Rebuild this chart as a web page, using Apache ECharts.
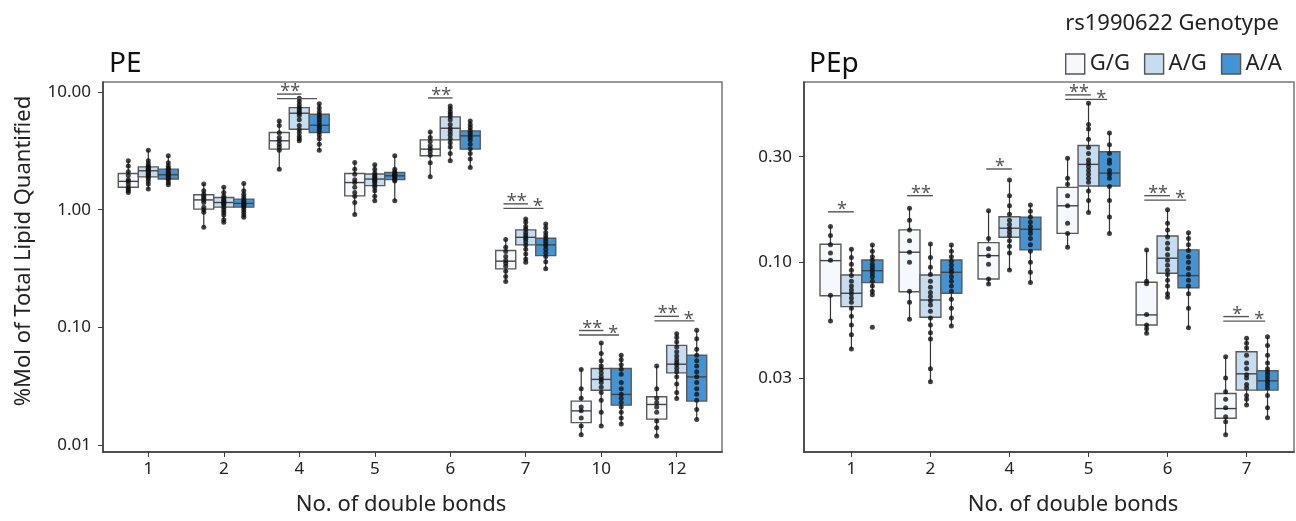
<!DOCTYPE html>
<html>
<head>
<meta charset="utf-8">
<script src="https://cdn.jsdelivr.net/npm/echarts@6/dist/echarts.min.js"></script>
<style>
  html, body { margin: 0; padding: 0; background: #fff; }
  #main { width: 1296px; height: 521px; }
</style>
</head>
<body>
<div id="main"></div>
<script>
// box stats: [low whisker, Q1, median, Q3, high whisker]
const peCats = ['1', '2', '4', '5', '6', '7', '10', '12'];
const peGG = [
  [1.40, 1.55, 1.74, 2.03, 2.60], [0.71, 1.01, 1.21, 1.34, 1.65], [2.21, 3.27, 3.85, 4.52, 5.68],
  [0.91, 1.31, 1.70, 2.03, 2.52], [1.90, 2.87, 3.27, 3.92, 4.58], [0.245, 0.314, 0.365, 0.450, 0.557],
  [0.0122, 0.0155, 0.0195, 0.0236, 0.0438], [0.0119, 0.0166, 0.0221, 0.0257, 0.0470]
];
const peAG = [
  [1.50, 1.90, 2.14, 2.31, 3.20], [0.77, 1.05, 1.15, 1.27, 1.55], [3.85, 4.83, 6.60, 7.36, 8.85],
  [1.19, 1.60, 1.82, 2.01, 2.41], [2.60, 3.92, 4.92, 6.14, 7.61], [0.357, 0.502, 0.582, 0.673, 0.834],
  [0.0145, 0.0292, 0.0361, 0.0447, 0.0736], [0.0249, 0.0410, 0.0486, 0.0703, 0.0883]
];
const peAA = [
  [1.63, 1.82, 1.98, 2.21, 2.87], [0.86, 1.05, 1.13, 1.23, 1.67], [3.20, 4.52, 5.22, 6.47, 7.96],
  [1.19, 1.80, 1.94, 2.07, 2.87], [2.28, 3.27, 4.24, 4.67, 5.68], [0.314, 0.407, 0.502, 0.571, 0.757],
  [0.0151, 0.0218, 0.0269, 0.0447, 0.0579], [0.0165, 0.0236, 0.0379, 0.0579, 0.0944]
];
const peGGPts = [
  [2.60, 2.35, 2.1, 1.95, 1.8, 1.74, 1.65, 1.55, 1.5, 1.45, 1.40],
  [1.65, 1.45, 1.35, 1.3, 1.25, 1.2, 1.15, 1.05, 1.0, 0.95, 0.71],
  [5.68, 5.2, 4.5, 4.1, 3.85, 3.6, 3.4, 3.2, 2.21],
  [2.52, 2.2, 2.0, 1.8, 1.7, 1.55, 1.4, 1.3, 1.15, 0.91],
  [4.58, 4.1, 3.8, 3.5, 3.3, 3.1, 2.9, 2.5, 1.9],
  [0.557, 0.48, 0.44, 0.40, 0.37, 0.35, 0.33, 0.30, 0.27, 0.245],
  [0.0438, 0.030, 0.025, 0.021, 0.0195, 0.017, 0.0145, 0.0122],
  [0.0470, 0.030, 0.025, 0.023, 0.021, 0.019, 0.016, 0.014, 0.0119]
];
const peAGPts = [
  [3.2, 2.6, 2.45, 2.35, 2.3, 2.25, 2.2, 2.15, 2.1, 2.05, 2.0, 1.95, 1.9, 1.85, 1.75, 1.65, 1.5],
  [1.55, 1.4, 1.3, 1.25, 1.2, 1.18, 1.15, 1.12, 1.1, 1.05, 1.0, 0.95, 0.9, 0.82, 0.78],
  [8.85, 8.3, 7.8, 7.4, 7.1, 6.8, 6.6, 6.3, 5.8, 5.2, 4.8, 4.5, 4.2, 4.0, 3.85],
  [2.41, 2.2, 2.05, 1.95, 1.9, 1.85, 1.8, 1.75, 1.7, 1.62, 1.55, 1.45, 1.3, 1.19],
  [7.61, 7.2, 6.8, 6.5, 6.2, 5.8, 5.3, 4.9, 4.6, 4.3, 4.0, 3.7, 3.4, 3.0, 2.6],
  [0.834, 0.78, 0.72, 0.68, 0.64, 0.61, 0.58, 0.56, 0.53, 0.50, 0.46, 0.42, 0.38, 0.357],
  [0.0736, 0.060, 0.052, 0.047, 0.044, 0.041, 0.038, 0.036, 0.034, 0.031, 0.028, 0.024, 0.019, 0.0145],
  [0.0883, 0.082, 0.075, 0.068, 0.062, 0.057, 0.053, 0.050, 0.048, 0.045, 0.042, 0.038, 0.033, 0.028, 0.0249]
];
const peAAPts = [
  [2.87, 2.5, 2.35, 2.25, 2.2, 2.1, 2.05, 2.0, 1.95, 1.9, 1.85, 1.8, 1.7, 1.63],
  [1.67, 1.45, 1.35, 1.28, 1.22, 1.18, 1.15, 1.12, 1.1, 1.08, 1.05, 1.0, 0.95, 0.9, 0.86],
  [7.96, 7.3, 6.8, 6.4, 6.1, 5.8, 5.5, 5.2, 5.0, 4.8, 4.6, 4.3, 4.0, 3.6, 3.2],
  [2.87, 2.2, 2.1, 2.05, 2.0, 1.97, 1.94, 1.9, 1.85, 1.8, 1.75, 1.19],
  [5.68, 5.3, 5.0, 4.7, 4.5, 4.3, 4.1, 3.9, 3.6, 3.3, 3.0, 2.7, 2.28],
  [0.757, 0.70, 0.64, 0.60, 0.57, 0.54, 0.51, 0.49, 0.46, 0.43, 0.40, 0.36, 0.314],
  [0.0579, 0.053, 0.048, 0.044, 0.040, 0.034, 0.030, 0.027, 0.025, 0.023, 0.021, 0.019, 0.017, 0.0151],
  [0.0944, 0.080, 0.065, 0.058, 0.052, 0.047, 0.042, 0.038, 0.034, 0.030, 0.027, 0.024, 0.020, 0.0165]
];

const pepCats = ['1', '2', '4', '5', '6', '7'];
const pepGG = [
  [0.0542, 0.0706, 0.1017, 0.1206, 0.145], [0.0552, 0.0736, 0.111, 0.140, 0.1754],
  [0.0798, 0.0840, 0.1071, 0.1227, 0.171], [0.117, 0.135, 0.180, 0.218, 0.2955],
  [0.0477, 0.0520, 0.0578, 0.0812, 0.1137], [0.0166, 0.0197, 0.0218, 0.0255, 0.0374]
];
const pepAG = [
  [0.0405, 0.0630, 0.0724, 0.0876, 0.1145], [0.0288, 0.0564, 0.0675, 0.0876, 0.121],
  [0.0923, 0.1297, 0.1425, 0.1607, 0.2355], [0.168, 0.221, 0.277, 0.337, 0.524],
  [0.0695, 0.0892, 0.1043, 0.1315, 0.1725], [0.0226, 0.0264, 0.0313, 0.0394, 0.0453]
];
const pepAA = [
  [0.0712, 0.0809, 0.0916, 0.1024, 0.1197], [0.0515, 0.0724, 0.0901, 0.1024, 0.1197],
  [0.0809, 0.1137, 0.141, 0.160, 0.1815], [0.135, 0.221, 0.253, 0.316, 0.384],
  [0.0506, 0.0767, 0.0870, 0.1137, 0.136], [0.0198, 0.0264, 0.0291, 0.0323, 0.0460]
];
const pepGGPts = [
  [0.145, 0.132, 0.120, 0.110, 0.102, 0.071, 0.0542],
  [0.1754, 0.155, 0.140, 0.125, 0.111, 0.100, 0.074, 0.066, 0.0552],
  [0.171, 0.128, 0.115, 0.107, 0.098, 0.084, 0.0798],
  [0.2955, 0.240, 0.225, 0.200, 0.180, 0.150, 0.135, 0.117],
  [0.1137, 0.082, 0.080, 0.058, 0.052, 0.050, 0.0477],
  [0.0374, 0.030, 0.026, 0.024, 0.022, 0.020, 0.019, 0.0166]
];
const pepAGPts = [
  [0.1145, 0.105, 0.098, 0.092, 0.087, 0.082, 0.078, 0.075, 0.072, 0.069, 0.066, 0.062, 0.057, 0.052, 0.047, 0.0405],
  [0.121, 0.105, 0.095, 0.088, 0.082, 0.077, 0.073, 0.070, 0.067, 0.064, 0.060, 0.056, 0.052, 0.048, 0.045, 0.033, 0.0288],
  [0.2355, 0.200, 0.180, 0.165, 0.155, 0.148, 0.142, 0.137, 0.132, 0.125, 0.118, 0.110, 0.0923],
  [0.524, 0.42, 0.40, 0.36, 0.33, 0.31, 0.29, 0.28, 0.27, 0.26, 0.25, 0.24, 0.23, 0.21, 0.19, 0.168],
  [0.1725, 0.150, 0.140, 0.130, 0.122, 0.115, 0.108, 0.102, 0.097, 0.092, 0.088, 0.083, 0.078, 0.072, 0.0695],
  [0.0453, 0.043, 0.041, 0.038, 0.035, 0.033, 0.031, 0.030, 0.028, 0.027, 0.025, 0.024, 0.0226]
];
const pepAAPts = [
  [0.1197, 0.112, 0.106, 0.102, 0.098, 0.095, 0.092, 0.089, 0.086, 0.082, 0.078, 0.074, 0.0712, 0.0508],
  [0.1197, 0.112, 0.106, 0.101, 0.097, 0.093, 0.090, 0.086, 0.082, 0.078, 0.074, 0.068, 0.062, 0.056, 0.0515],
  [0.1815, 0.170, 0.160, 0.152, 0.145, 0.140, 0.135, 0.128, 0.120, 0.112, 0.100, 0.090, 0.0809],
  [0.384, 0.34, 0.31, 0.29, 0.28, 0.26, 0.25, 0.24, 0.22, 0.19, 0.16, 0.135],
  [0.136, 0.128, 0.120, 0.113, 0.106, 0.100, 0.094, 0.088, 0.083, 0.078, 0.072, 0.062, 0.0506],
  [0.046, 0.042, 0.038, 0.035, 0.033, 0.032, 0.031, 0.030, 0.029, 0.028, 0.027, 0.025, 0.022, 0.0198]
];

// significance: G/G vs A/G label, G/G vs A/A label (null = no bracket), bracket level
const peSigCats = ['4', '6', '7', '10', '12'];
const peSigAG = ['**', '**', '**', '**', '**'];
const peSigAA = ['', null, '*', '*', '*'];
const peSigY = [9.6, 8.9, 1.12, 0.094, 0.124];

const pepSigCats = ['1', '2', '4', '5', '6', '7'];
const pepSigAG = ['*', '**', '*', '**', '**', '*'];
const pepSigAA = [null, null, null, '*', '*', '*'];
const pepSigY = [0.169, 0.20, 0.264, 0.571, 0.20, 0.0568];

const peTicks = [0.01, 0.1, 1, 10];
const pepTicks = [0.03, 0.1, 0.3];

const genoNames = ['G/G', 'A/G', 'A/A'];
const genoColors = ['#f5f9fd', '#c6dcf1', '#4493d3'];
const OFF = 0.265;
const BOX_W = 0.265;
const LOG = Math.log10;

function renderBox(params, api) {
  const x = api.value(0);
  const lo = api.coord([x, api.value(1)]);
  const q1 = api.coord([x, api.value(2)]);
  const md = api.coord([x, api.value(3)]);
  const q3 = api.coord([x, api.value(4)]);
  const hi = api.coord([x, api.value(5)]);
  const xl = api.coord([x - BOX_W / 2, api.value(3)])[0];
  const xr = api.coord([x + BOX_W / 2, api.value(3)])[0];
  const cx = md[0];
  const wStyle = { stroke: '#333', lineWidth: 1.2 };
  return {
    type: 'group',
    children: [
      { type: 'line', shape: { x1: cx, y1: hi[1], x2: cx, y2: q3[1] }, style: wStyle },
      { type: 'line', shape: { x1: cx, y1: q1[1], x2: cx, y2: lo[1] }, style: wStyle },
      { type: 'rect', shape: { x: xl, y: q3[1], width: xr - xl, height: q1[1] - q3[1] },
        style: { fill: api.visual('color'), stroke: '#5a5a5a', lineWidth: 1.4 } },
      { type: 'line', shape: { x1: xl, y1: md[1], x2: xr, y2: md[1] }, style: { stroke: '#444', lineWidth: 1.4 } }
    ]
  };
}

function sigRenderer(agLabels, aaLabels) {
  return function (params, api) {
    const i = api.value(0);
    const yv = api.value(1);
    const k = params.dataIndex;
    const a = api.coord([i - OFF - 0.03, yv]);
    const b = api.coord([i + 0.03, yv]);
    const lineStyle = { stroke: '#555', lineWidth: 1.4 };
    const starStyle = { fill: '#555', fontSize: 18, fontFamily: 'Noto Sans', align: 'center', verticalAlign: 'middle' };
    const children = [
      { type: 'line', shape: { x1: a[0], y1: a[1], x2: b[0], y2: b[1] }, style: lineStyle },
      { type: 'text', x: api.coord([i - 0.12, yv])[0], y: a[1] - 2,
        style: Object.assign({ text: agLabels[k] }, starStyle) }
    ];
    if (aaLabels[k] !== null) {
      const c = api.coord([i + OFF - 0.03, yv]);
      const y2 = a[1] + 4.5;
      children.push({ type: 'line', shape: { x1: a[0], y1: y2, x2: c[0], y2: y2 }, style: lineStyle });
      if (aaLabels[k]) {
        children.push({ type: 'text', x: api.coord([i + 0.16, yv])[0], y: y2 - 1,
          style: Object.assign({ text: aaLabels[k] }, starStyle) });
      }
    }
    return { type: 'group', children };
  };
}

function panelSeries(cats, stats, pts, sigCats, sigAG, sigAA, sigY, axis) {
  const out = [];
  stats.forEach(function (st, g) {
    const off = (g - 1) * OFF;
    out.push({
      type: 'custom', name: genoNames[g], xAxisIndex: axis, yAxisIndex: axis, z: 2,
      itemStyle: { color: genoColors[g] },
      encode: { x: 0, y: [1, 2, 3, 4, 5] },
      renderItem: renderBox,
      data: st.map((s, i) => [i + off].concat(s.map(LOG)))
    });
  });
  pts.forEach(function (p, g) {
    const off = (g - 1) * OFF;
    const data = [];
    p.forEach((arr, i) => arr.forEach(v => data.push([i + off, LOG(v)])));
    out.push({
      type: 'scatter', name: 'pts' + g, xAxisIndex: axis, yAxisIndex: axis, z: 3,
      symbolSize: 5, itemStyle: { color: '#111' }, data
    });
  });
  out.push({
    type: 'custom', name: 'sig', xAxisIndex: axis, yAxisIndex: axis, z: 4, clip: false,
    encode: { x: 0, y: 1 },
    renderItem: sigRenderer(sigAG, sigAA),
    data: sigCats.map((c, k) => [cats.indexOf(c), LOG(sigY[k])])
  });
  return out;
}

function xAxisFor(cats, grid) {
  const idx = cats.map((c, i) => i);
  return {
    type: 'value', gridIndex: grid, min: -0.6, max: cats.length - 0.4,
    splitLine: { show: false },
    axisLine: { show: true, onZero: false, lineStyle: { color: '#3a3a3a', width: 1.5 } },
    axisTick: { show: true, length: 5, customValues: idx, lineStyle: { color: '#3a3a3a' } },
    axisLabel: { customValues: idx, margin: 9, fontSize: 17, color: '#222',
      formatter: v => cats[Math.round(v)] }
  };
}

function yAxisFor(ticks, min, max, grid) {
  return {
    type: 'value', gridIndex: grid, min: LOG(min), max: LOG(max),
    splitLine: { show: false },
    axisLine: { show: true, onZero: false, lineStyle: { color: '#3a3a3a', width: 1.5 } },
    axisTick: { show: true, length: 5, customValues: ticks.map(LOG), lineStyle: { color: '#3a3a3a' } },
    axisLabel: { customValues: ticks.map(LOG), margin: 12, fontSize: 17, color: '#222',
      formatter: v => Math.pow(10, v).toFixed(2) }
  };
}

const chart = echarts.init(document.getElementById('main'));
chart.setOption({
  animation: false,
  textStyle: { fontFamily: 'Noto Sans' },
  title: [
    { text: 'PE', left: 109, top: 50, padding: 0, textStyle: { fontSize: 28, fontWeight: 'normal', color: '#111' } },
    { text: 'PEp', left: 809, top: 50, padding: 0, textStyle: { fontSize: 28, fontWeight: 'normal', color: '#111' } },
    { text: 'rs1990622 Genotype', right: 17, top: 13, padding: 0, textStyle: { fontSize: 22, fontWeight: 'normal', color: '#222' } }
  ],
  legend: {
    left: 1065, top: 53, padding: 0, icon: 'rect', itemWidth: 19, itemHeight: 20, itemGap: 14,
    textStyle: { fontSize: 22, color: '#222' },
    data: genoNames.map((n, g) => ({ name: n, itemStyle: { color: genoColors[g], borderColor: '#555', borderWidth: 1.4 } }))
  },
  grid: [
    { left: 103, top: 82, width: 619, height: 370, show: true, borderColor: '#777', borderWidth: 1.5 },
    { left: 804, top: 82, width: 490, height: 370, show: true, borderColor: '#777', borderWidth: 1.5 }
  ],
  xAxis: [xAxisFor(peCats, 0), xAxisFor(pepCats, 1)],
  yAxis: [yAxisFor(peTicks, 0.00872, 12.16, 0), yAxisFor(pepTicks, 0.01387, 0.653, 1)],
  graphic: [
    { type: 'text', x: 24, y: 251, rotation: Math.PI / 2,
      style: { text: '%Mol of Total Lipid Quantified', fontSize: 22, fontFamily: 'Noto Sans', fill: '#222', align: 'center', verticalAlign: 'middle' } },
    { type: 'text', x: 401, y: 505,
      style: { text: 'No. of double bonds', fontSize: 22, fontFamily: 'Noto Sans', fill: '#222', align: 'center', verticalAlign: 'middle' } },
    { type: 'text', x: 1073, y: 505,
      style: { text: 'No. of double bonds', fontSize: 22, fontFamily: 'Noto Sans', fill: '#222', align: 'center', verticalAlign: 'middle' } }
  ],
  series: panelSeries(peCats, [peGG, peAG, peAA], [peGGPts, peAGPts, peAAPts], peSigCats, peSigAG, peSigAA, peSigY, 0)
    .concat(panelSeries(pepCats, [pepGG, pepAG, pepAA], [pepGGPts, pepAGPts, pepAAPts], pepSigCats, pepSigAG, pepSigAA, pepSigY, 1))
});
</script>
</body>
</html>
